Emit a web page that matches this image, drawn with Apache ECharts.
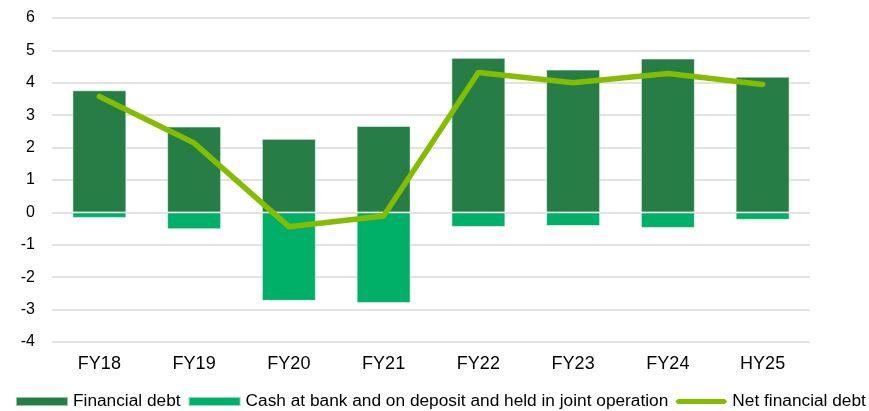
<!DOCTYPE html>
<html>
<head>
<meta charset="utf-8">
<script src="https://cdn.jsdelivr.net/npm/echarts@6/dist/echarts.min.js"></script>
<style>
  html, body { margin: 0; padding: 0; background: #fff; }
  #chart { width: 869px; height: 411px; }
</style>
</head>
<body>
<div id="chart"></div>
<script>
// periods on the x axis
const periods = ['FY18', 'FY19', 'FY20', 'FY21', 'FY22', 'FY23', 'FY24', 'HY25']
// values
const financialDebt = [3.77, 2.65, 2.27, 2.67, 4.77, 4.41, 4.75, 4.19]
const cashAtBank = [-0.17, -0.52, -2.73, -2.80, -0.45, -0.42, -0.48, -0.23]
const netFinancialDebt = [3.58, 2.14, -0.44, -0.11, 4.32, 4.00, 4.29, 3.95]

const chart = echarts.init(document.getElementById('chart'))

// thick rounded line for the legend, padded to the same 9px box as the bar icons
const lineIcon = 'path://M0,0L0,0M0,9L0,9M2.5,2L49.5,2L52,4.5L49.5,7L2.5,7L0,4.5Z'

const option = {
  animation: false,
  textStyle: { fontFamily: 'Liberation Sans, Arial, sans-serif', color: '#000' },
  grid: { left: 52, right: 59, top: 18, bottom: 69 },
  legend: {
    left: 10,
    top: 388,
    width: 900,
    itemWidth: 52,
    itemHeight: 9,
    itemGap: 7,
    textStyle: { fontSize: 17.3, color: '#000' },
    data: [
      { name: 'Financial debt', icon: 'rect' },
      { name: 'Cash at bank and on deposit and held in joint operation', icon: 'rect' },
      { name: 'Net financial debt', icon: lineIcon }
    ]
  },
  xAxis: {
    type: 'category',
    data: periods,
    axisLine: { show: false },
    axisTick: { show: false },
    axisLabel: { fontSize: 18, color: '#000', margin: 13 }
  },
  yAxis: {
    type: 'value',
    min: -4,
    max: 6,
    interval: 1,
    axisLine: { show: false },
    axisTick: { show: false },
    axisLabel: { fontSize: 16, color: '#000', margin: 17 },
    splitLine: { lineStyle: { color: '#d9d9d9', width: 1.5 } }
  },
  series: [
    {
      name: 'Financial debt',
      type: 'bar',
      stack: 'debt',
      barWidth: 54,
      data: financialDebt,
      itemStyle: { color: '#267D45', borderColor: 'rgba(255,255,255,0.55)', borderWidth: 1 }
    },
    {
      name: 'Cash at bank and on deposit and held in joint operation',
      type: 'bar',
      stack: 'debt',
      barWidth: 54,
      data: cashAtBank,
      itemStyle: { color: '#00AF68', borderColor: 'rgba(255,255,255,0.55)', borderWidth: 1 }
    },
    {
      name: 'Net financial debt',
      type: 'line',
      data: netFinancialDebt,
      symbol: 'none',
      lineStyle: { color: '#84BD00', width: 5.5, cap: 'round', join: 'round' },
      itemStyle: { color: '#84BD00' }
    }
  ]
}

chart.setOption(option)
</script>
</body>
</html>
